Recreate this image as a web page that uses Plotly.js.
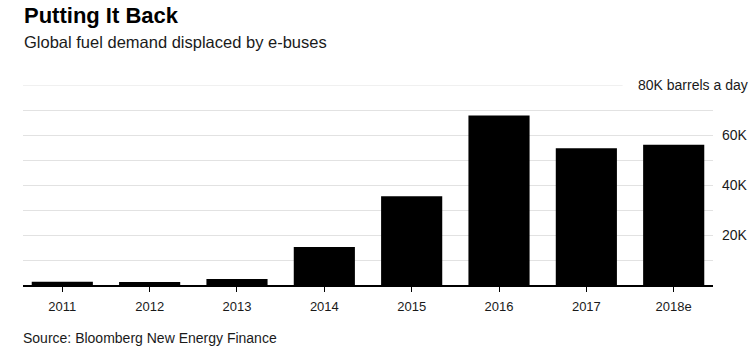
<!DOCTYPE html>
<html>
<head>
<meta charset="utf-8">
<script src="https://cdn.plot.ly/plotly-3.0.1.min.js"></script>
<style>
  html, body { margin: 0; padding: 0; background: #fff; }
  #chart { width: 756px; height: 352px; }
</style>
</head>
<body>
<div id="chart"></div>
<script>
// Data
const years = ["2011", "2012", "2013", "2014", "2015", "2016", "2017", "2018e"];
const barrelsPerDay = [1300, 1200, 2400, 15200, 35500, 67800, 54700, 56100];

const gridVals = [10000, 20000, 30000, 40000, 50000, 60000, 70000];
const gridText = ["", "20K", "", "40K", "", "60K", ""];
const topValue = 80000;
const topLabel = "80K barrels a day";

const titleText = "Putting It Back";
const subtitleText = "Global fuel demand displaced by e-buses";
const sourceText = "Source: Bloomberg New Energy Finance";

const FONT = "Liberation Sans, Arial, Helvetica, sans-serif";

const trace = {
  type: "bar",
  x: years,
  y: barrelsPerDay,
  marker: { color: "#000000", line: { width: 0 } },
  hoverinfo: "skip"
};

const layout = {
  width: 756,
  height: 352,
  margin: { l: 23, r: 43, t: 85, b: 67 },
  paper_bgcolor: "#ffffff",
  plot_bgcolor: "#ffffff",
  font: { family: FONT, color: "#1a1a1a" },
  showlegend: false,
  bargap: 0.3,
  xaxis: {
    type: "category",
    range: [-0.45, 7.45],
    showgrid: false,
    zeroline: false,
    showline: true,
    linecolor: "#000000",
    linewidth: 1.5,
    ticks: "outside",
    ticklen: 5,
    tickwidth: 1,
    tickcolor: "#000000",
    ticklabelstandoff: 4,
    tickfont: { size: 13, color: "#1a1a1a", family: FONT },
    fixedrange: true
  },
  yaxis: {
    side: "right",
    range: [0, topValue],
    tickmode: "array",
    tickvals: gridVals,
    ticktext: gridText,
    showgrid: true,
    gridcolor: "#e2e2e2",
    gridwidth: 1,
    zeroline: false,
    showline: false,
    ticks: "",
    ticklabelstandoff: 8,
    tickfont: { size: 14, color: "#1a1a1a", family: FONT },
    fixedrange: true
  },
  shapes: [
    {
      type: "line",
      xref: "paper", yref: "y",
      x0: 0, x1: 0.869,
      y0: topValue, y1: topValue,
      line: { color: "#e2e2e2", width: 1 },
      layer: "below"
    }
  ],
  annotations: [
    {
      text: "<b>" + titleText + "</b>",
      xref: "paper", yref: "paper",
      x: -0.002, y: 1.42,
      xanchor: "left", yanchor: "top",
      showarrow: false,
      font: { size: 22, color: "#000000", family: FONT }
    },
    {
      text: subtitleText,
      xref: "paper", yref: "paper",
      x: -0.002, y: 1.27,
      xanchor: "left", yanchor: "top",
      showarrow: false,
      font: { size: 16.5, color: "#1a1a1a", family: FONT }
    },
    {
      text: topLabel,
      xref: "paper", yref: "y",
      x: 1.053, y: topValue,
      xanchor: "right", yanchor: "middle",
      showarrow: false,
      font: { size: 14, color: "#1a1a1a", family: FONT }
    },
    {
      text: sourceText,
      xref: "paper", yref: "paper",
      x: -0.003, y: -0.215,
      xanchor: "left", yanchor: "top",
      showarrow: false,
      font: { size: 14, color: "#1a1a1a", family: FONT }
    }
  ]
};

Plotly.newPlot("chart", [trace], layout, { displayModeBar: false, staticPlot: true });
</script>
</body>
</html>
